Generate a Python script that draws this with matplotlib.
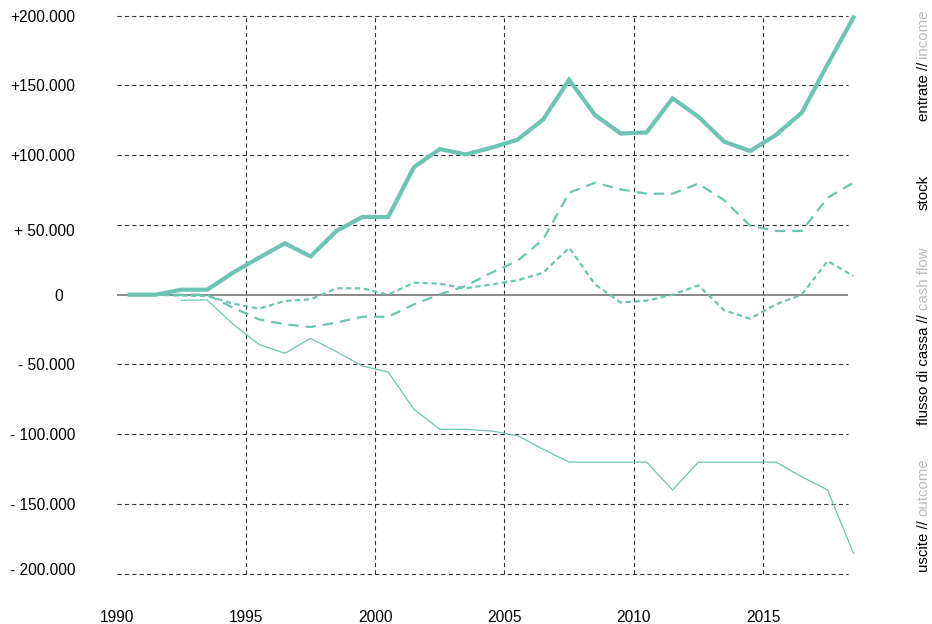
import matplotlib
matplotlib.use("Agg")
import matplotlib.pyplot as plt
import matplotlib.transforms as mtransforms
import numpy as np

plt.rcParams['font.family'] = ['Liberation Sans', 'DejaVu Sans']
plt.rcParams['lines.scale_dashes'] = False

# dati (migliaia di euro)
years = list(range(1990, 2019))
entrate = [0, 0, 3.6, 3.6, 15.8, 26.5, 36.8, 27.5, 45.7, 55.7, 55.7, 91.5, 104.4,
           100.6, 105.4, 111.1, 125.7, 154.1, 128.8, 115.5, 116.4, 140.8, 127.6,
           109.7, 103.0, 114.5, 130.5, 165.1, 198.8]
uscite = [np.nan, np.nan, -4.0, -3.8, -21.2, -35.6, -42.0, -31.3, -40.9, -51.1, -55.4,
          -82.2, -96.5, -96.5, -97.7, -101.0, -110.8, -120.0, -120.0, -120.0, -120.0,
          -140.0, -120.0, -120.0, -120.0, -120.0, -130.5, -140.0, -185.4]
flusso = [np.nan, 0, -0.7, -0.9, -6.4, -10.0, -4.5, -3.3, 4.6, 4.6, 0, 8.6, 7.9,
          4.6, 7.4, 10.3, 15.8, 33.7, 7.4, -5.6, -4.3, 0, 6.7, -11.2, -17.2, -6.9,
          0, 24.2, 13.4]
stock = [np.nan, 0, 0, 0, -9.3, -17.7, -21.2, -23.2, -20.0, -15.8, -15.8, -6.9, 0.3,
         6.2, 15.8, 24.2, 39.7, 73.1, 80.3, 75.5, 72.4, 72.4, 79.6, 67.7, 49.5, 45.7,
         45.7, 69.5, 80.3]

ytick_vals = [200, 150, 100, 50, 0, -50, -100, -150, -200]
ytick_labels = ['+200.000', '+150.000', '+100.000', '+ 50.000', '0',
                '- 50.000', '- 100.000', '- 150.000', '- 200.000']
xtick_vals = [1990, 1995, 2000, 2005, 2010, 2015]

teal = '#6cc4b3'
W, H = 932, 624

fig = plt.figure(figsize=(W / 100, H / 100), dpi=100)
ax = fig.add_axes([116.75 / W, 1 - 573.7 / H, (848.3 - 116.75) / W, (573.7 - 15.7) / H])

x = np.array(years) + 0.5  # punti a metà anno
k = 1000

# griglia
grid_kw = dict(color='#333333', lw=0.8, linestyle=(0, (3.0, 2.3)), zorder=1, clip_on=False)
for v in ytick_vals:
    if v != 0:
        ax.axhline(v * k, **grid_kw)
for yr in xtick_vals[1:]:
    ax.axvline(yr, **grid_kw)
ax.axhline(0, color='#777777', lw=1.2, zorder=2)

# serie
ax.plot(x, np.array(uscite) * k, color=teal, lw=0.9, zorder=3, clip_on=False)
ax.plot(x, np.array(stock) * k, color=teal, lw=1.6, linestyle=(0, (7.5, 5.0)),
        zorder=3, clip_on=False)
ax.plot(x, np.array(flusso) * k, color=teal, lw=1.6, linestyle=(0, (3.8, 2.6)),
        zorder=3, clip_on=False)
ax.plot(x, np.array(entrate) * k, color=teal, lw=3.0, zorder=4, clip_on=False,
        solid_joinstyle='miter')

ax.set_xlim(1990, 2018.3)
ax.set_ylim(-200 * k, 200 * k)
ax.set_xticks(xtick_vals)
ax.set_xticklabels([str(v) for v in xtick_vals])
ax.set_yticks([v * k for v in ytick_vals])
ax.set_yticklabels(ytick_labels)
ax.tick_params(axis='both', length=0, labelsize=11.2, colors='black')
ax.tick_params(axis='y', pad=30)
ax.tick_params(axis='x', pad=26)
for s in ax.spines.values():
    s.set_visible(False)

# piccoli spostamenti delle etichette come nell'originale
shifts = {'0': (-12.3, 0), '+ 50.000': (0, -5), '- 200.000': (0, 5)}
for lab in ax.get_yticklabels():
    dx, dy = shifts.get(lab.get_text(), (0, 0))
    if dx or dy:
        lab.set_transform(lab.get_transform() +
                          mtransforms.Affine2D().translate(dx, dy))

# etichette a destra
xr = 923.5 / W
lab_kw = dict(rotation=90, ha='center', fontsize=10.8)
for black, grey, yj in [('entrate //', 'income', 62),
                        ('flusso di cassa //', 'cash flow', 314),
                        ('uscite //', 'outcome', 520)]:
    fig.text(xr, 1 - yj / H, black, va='top', color='black', **lab_kw)
    fig.text(xr, 1 - (yj - 4) / H, grey, va='bottom', color='#bbbbbb', **lab_kw)
fig.text(xr, 1 - 192 / H, 'stock', va='center', color='black', **lab_kw)

fig.savefig('out.png', dpi=100, facecolor='white')
